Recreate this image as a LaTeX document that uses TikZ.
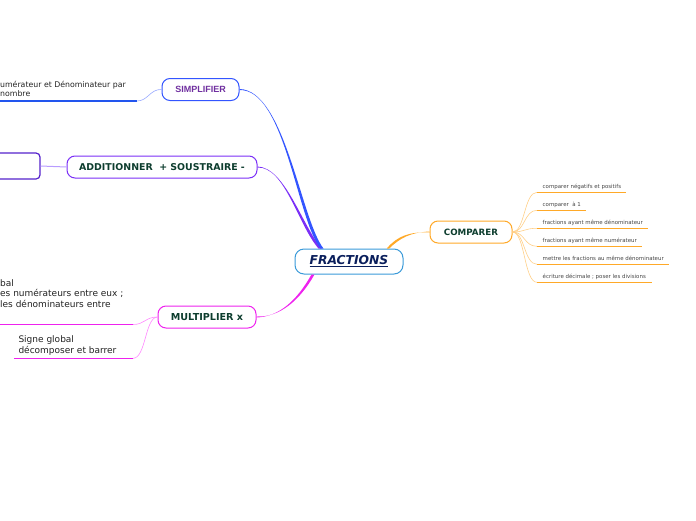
\documentclass[tikz,border=0pt]{standalone}
\usepackage{fontspec}
\setmainfont{DejaVu Sans}
\newfontfamily\arialfont{Liberation Sans}
\definecolor{cfrac}{HTML}{3A9AD9}
\definecolor{cfractext}{HTML}{0B1F5C}
\definecolor{cblue}{HTML}{3355FF}
\definecolor{cbluelight}{HTML}{99AAFF}
\definecolor{cbline}{HTML}{2255EE}
\definecolor{csimp}{HTML}{7030A0}
\definecolor{cadd}{HTML}{7B2FF7}
\definecolor{caddlight}{HTML}{B89CFF}
\definecolor{caddbox}{HTML}{5522CC}
\definecolor{cmag}{HTML}{EE22EE}
\definecolor{cmaglight}{HTML}{FF88FF}
\definecolor{corange}{HTML}{FFA928}
\definecolor{corangelight}{HTML}{FFCF88}
\definecolor{cgreen}{HTML}{0D3D2E}
\definecolor{ctext}{HTML}{222222}
\definecolor{csmall}{HTML}{444444}
\begin{document}
\begin{tikzpicture}[x=1pt,y=-1pt,
  mainbox/.style={draw=cfrac, line width=1pt, rounded corners=9pt, fill=white,
    minimum width=108pt, minimum height=25pt, inner sep=0pt, text=cfractext,
    font=\bfseries\itshape\fontsize{12.3}{14}\selectfont},
  brbox/.style={line width=1pt, rounded corners=8pt, fill=white,
    minimum height=22pt, inner sep=0pt, text=cgreen,
    font=\bfseries\fontsize{8.7}{10}\selectfont},
  leaf/.style={anchor=base west, inner sep=0pt, text=ctext,
    font=\fontsize{7.8}{10}\selectfont},
  leafb/.style={leaf, font=\fontsize{9}{10}\selectfont},
  tiny/.style={anchor=base west, inner sep=0pt, text=csmall,
    font=\fontsize{5.45}{6}\selectfont},
  uline/.style={line width=1.1pt},
  twig/.style={line width=0.6pt}
]
\useasboundingbox (0,0) rectangle (696,520);

% nodes
\node[mainbox] (fr) at (349,261.5) {\raisebox{-1.5pt}{\underline{FRACTIONS}}};
\node[brbox, draw=cblue, text=csimp, font=\arialfont\bfseries\fontsize{9}{11}\selectfont,
  minimum width=77pt] (sim) at (200.5,89.5) {SIMPLIFIER};
\node[brbox, draw=cadd, minimum width=190pt, font=\bfseries\fontsize{9.4}{10}\selectfont] (add) at (162,167) {ADDITIONNER\ \ + SOUSTRAIRE -};
\node[brbox, draw=caddbox, line width=1.2pt, rounded corners=4pt, minimum width=60pt,
  minimum height=26pt] (addc) at (10,166) {};
\node[brbox, draw=cmag, minimum width=98pt, font=\bfseries\fontsize{9.6}{10}\selectfont] (mul) at (207,317) {MULTIPLIER x};
\node[brbox, draw=corange, minimum width=82pt] (com) at (471,232) {COMPARER};

% main branches (tapered)
\fill[cadd] ([xshift=-30.5pt]fr.north) .. controls (298,225) and (285,166.5) .. ([yshift=-0.5pt]add.east)
  -- ([yshift=0.5pt]add.east) .. controls (285,167.5) and (302,225) .. ([xshift=-27.5pt]fr.north) -- cycle;
\fill[cblue] ([xshift=-28.5pt]fr.north) .. controls (297,220) and (285,89) .. ([yshift=-0.5pt]sim.east)
  -- ([yshift=0.5pt]sim.east) .. controls (285,90) and (301,220) .. ([xshift=-25.5pt]fr.north) -- cycle;
\fill[cmag] ([xshift=-37.5pt]fr.south) .. controls (297,300) and (280,316.5) .. ([yshift=-0.5pt]mul.east)
  -- ([yshift=0.5pt]mul.east) .. controls (280,317.5) and (300,300) .. ([xshift=-34.5pt]fr.south) -- cycle;
\fill[corange] ([xshift=37.8pt]fr.north) .. controls (397,236) and (410,231.5) .. ([yshift=-0.5pt]com.west)
  -- ([yshift=0.5pt]com.west) .. controls (410,232.5) and (400,238) .. ([xshift=40.2pt]fr.north) -- cycle;

% SIMPLIFIER child
\coordinate (s1) at (137,101);
\coordinate (s1e) at (-5,101);
\draw[twig, cbluelight] (sim.west) .. controls (150,89) and (148,101) .. (s1);
\draw[uline, cbline] (s1) -- (s1e);
\node[leaf] (s1a) at (0,87.5) {umérateur et Dénominateur par};
\node[leaf] (s1b) at (0,96) {nombre};

% ADDITIONNER child
\draw[line width=1pt, caddlight] (addc.east) -- (add.west);

% MULTIPLIER children
\coordinate (m1) at (133,324.5);
\coordinate (m1e) at (-5,324.5);
\coordinate (m2) at (133,358.3);
\coordinate (m2e) at (13.5,358.3);
\draw[twig, cmaglight] (mul.west) .. controls (145,317) and (145,324.5) .. (m1);
\draw[twig, cmaglight] (mul.west) .. controls (145,317) and (146,358.3) .. (m2);
\draw[uline, cmag] (m1) -- (m1e);
\draw[uline, cmag] (m2) -- (m2e);
\node[leafb] (m1a) at (0,286) {bal};
\node[leafb] (m1b) at (0,296.7) {es numérateurs entre eux ;};
\node[leafb] (m1c) at (0,307.3) {les dénominateurs entre};
\node[leafb] (m2a) at (18.3,342.7) {Signe global};
\node[leafb] (m2b) at (18.3,353.3) {décomposer et barrer};

% COMPARER children
\foreach \i/\y/\xe/\t in {1/192.3/626/{comparer négatifs et positifs},
  2/210.3/586/{comparer\ \ à 1},
  3/228.3/648/{fractions ayant même dénominateur},
  4/246.3/641.5/{fractions ayant même numérateur},
  5/264.3/669/{mettre les fractions au même dénominateur},
  6/282.3/651.5/{écriture décimale ; poser les divisions}}{
  \coordinate (c\i) at (537,\y);
  \coordinate (c\i e) at (\xe,\y);
  \draw[twig, corangelight] (com.east) .. controls (525,232) and (524,\y) .. (c\i);
  \draw[uline, corange] (c\i) -- (c\i e);
  \node[tiny] (ct\i) at (542.5,\y-4) {\t};
}
\end{tikzpicture}
\end{document}
